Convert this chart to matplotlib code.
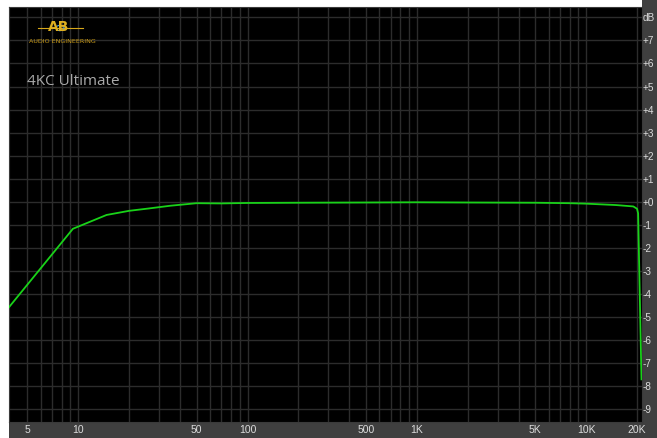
import matplotlib
matplotlib.use("Agg")
import matplotlib.pyplot as plt
from matplotlib.patches import Rectangle, Circle
import numpy as np

# frequency response
freq_hz = [3.9, 9.3, 14.7, 20, 26, 35, 50, 70, 100, 200, 500, 1000, 2000,
           5000, 8000, 10000, 15000, 19000, 20000, 20300, 21250]
level_db = [-4.57, -1.17, -0.57, -0.39, -0.29, -0.17, -0.06, -0.07, -0.05, -0.04,
            -0.03, -0.02, -0.03, -0.04, -0.06, -0.08, -0.14, -0.2, -0.3, -0.5, -7.7]

x_ticks = [5, 10, 50, 100, 500, 1000, 5000, 10000, 20000]
x_labels = ["5", "10", "50", "100", "500", "1K", "5K", "10K", "20K"]
y_ticks = list(range(-9, 9))
y_labels = [("+%d" % v if v >= 0 else "%d" % v) for v in range(-9, 8)] + ["dB"]

W, H = 657, 438
fig = plt.figure(figsize=(W / 100, H / 100), dpi=100)
fig.patch.set_facecolor("white")

band = "#3f3f3f"
# gray bands (right and bottom), kept behind the axes so tick labels show
fig.patches.append(Rectangle((642 / W, 0), 1 - 642 / W, 1, transform=fig.transFigure,
                             facecolor=band, edgecolor="none", zorder=-5))
fig.patches.append(Rectangle((9 / W, 0), 1 - 9 / W, 16 / H, transform=fig.transFigure,
                             facecolor=band, edgecolor="none", zorder=-5))

ax = fig.add_axes([9 / W, 16 / H, (642 - 9) / W, (431 - 16) / H])
ax.set_facecolor("black")
ax.set_xscale("log")
ax.set_xlim(3.9, 21400)
ax.set_ylim(-9.55, 8.45)

minor = [m * 10 ** e for e in range(0, 5) for m in range(1, 10)]
minor = [v for v in minor if 4.5 < v < 21400 and v not in x_ticks]
ax.set_xticks(x_ticks)
ax.set_xticks(minor, minor=True)
ax.set_xticklabels(x_labels)
ax.set_yticks(y_ticks)
ax.set_yticklabels(y_labels)
ax.yaxis.tick_right()
ax.grid(True, which="both", color="#2c2c2c", linewidth=1)
ax.tick_params(which="both", length=0)
ax.tick_params(axis="x", colors="#dcdcdc", labelsize=7.5, pad=2)
ax.tick_params(axis="y", colors="#dcdcdc", labelsize=7.2, pad=0.5)
for lab in ax.get_xticklabels():
    lab.set_family("Liberation Sans")
for lab in ax.get_yticklabels():
    lab.set_family("Liberation Sans")
    lab.set_va("center_baseline")
for s in ax.spines.values():
    s.set_color("#3a3a3a")

ax.plot(freq_hz, level_db, color="#19d219", linewidth=1.3, zorder=3)

# title and logo
fig.text(27 / W, 1 - 82 / H, "4KC Ultimate", color="#a9a9a9", fontsize=11,
         family="Open Sans", va="center", ha="left")
fig.text(59 / W, 1 - 27 / H, "AB", color="#e0b020", fontsize=10, family="DejaVu Sans",
         va="center", ha="center", fontweight="bold", zorder=5)
fig.add_artist(plt.Line2D([38 / W, 83 / W], [1 - 28 / H, 1 - 28 / H], color="#d8a81a",
                          linewidth=0.8, transform=fig.transFigure))
fig.add_artist(Circle((60 / W, 1 - 28 / H), 4 / W, transform=fig.transFigure,
                      facecolor="none", edgecolor="#4aa0e0", linewidth=0.8, zorder=4))
fig.text(62 / W, 1 - 41.5 / H, "AUDIO ENGINEERING", color="#c89a18", fontsize=4.6,
         va="center", ha="center")

fig.savefig("out.png", dpi=100, facecolor=fig.get_facecolor())
